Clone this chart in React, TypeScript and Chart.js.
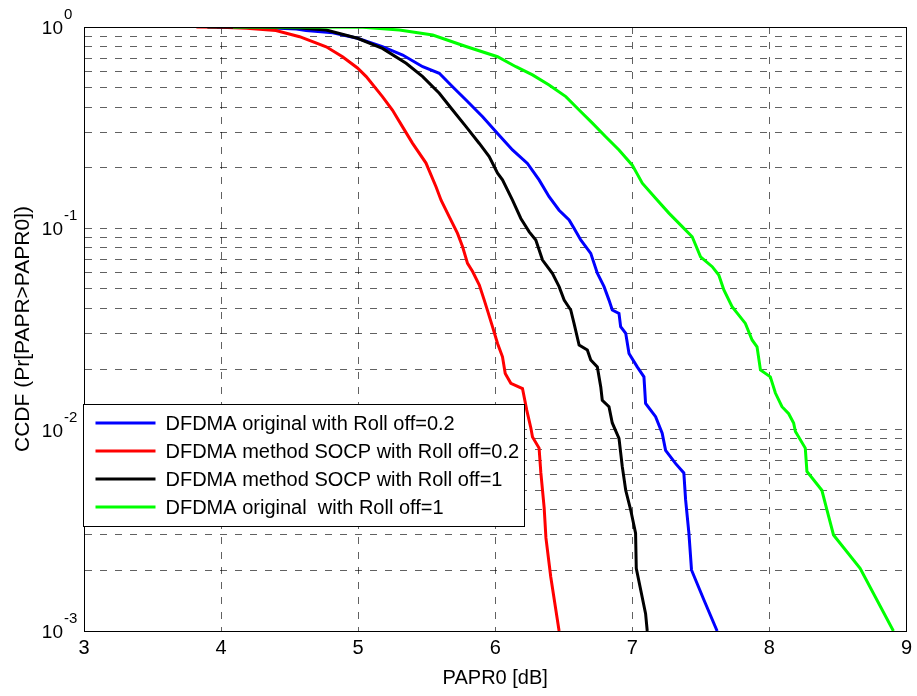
import React, { useEffect, useRef } from 'react';
import { Chart, registerables } from 'chart.js';

Chart.register(...registerables);

const FONT = '"Liberation Sans", Arial, Helvetica, sans-serif';

const seriesLabels = [
  'DFDMA original with Roll off=0.2',
  'DFDMA method SOCP with Roll off=0.2',
  'DFDMA method SOCP with Roll off=1',
  'DFDMA original  with Roll off=1',
];
const seriesColors = ['#0000ff', '#ff0000', '#000000', '#00ff00'];

const blueX = [3.97, 4.3, 4.55, 4.62, 4.815, 4.995, 5.177, 5.325, 5.471, 5.592, 5.689, 5.787, 5.908, 6.017, 6.126, 6.235, 6.32, 6.393, 6.466, 6.539, 6.575, 6.624, 6.697, 6.745, 6.794, 6.83, 6.854, 6.903, 6.915, 6.952, 6.976, 7.036, 7.085, 7.097, 7.17, 7.218, 7.243, 7.315, 7.376, 7.389, 7.413, 7.432, 7.522, 7.619];
const blueY = [1, 0.995, 0.978, 0.962, 0.937, 0.879, 0.798, 0.726, 0.635, 0.589, 0.505, 0.434, 0.358, 0.296, 0.245, 0.21, 0.174, 0.1436, 0.123, 0.11, 0.1, 0.0875, 0.0751, 0.0598, 0.0513, 0.044, 0.0393, 0.0378, 0.0325, 0.0301, 0.0239, 0.0205, 0.0183, 0.0135, 0.0116, 0.0096, 0.0079, 0.0068, 0.0061, 0.00448, 0.00306, 0.00201, 0.00143, 0.001];

const redX = [3.82, 4.0, 4.185, 4.4, 4.573, 4.767, 4.886, 4.995, 5.059, 5.177, 5.25, 5.323, 5.396, 5.495, 5.568, 5.605, 5.665, 5.725, 5.762, 5.798, 5.835, 5.884, 5.92, 5.944, 5.98, 6.017, 6.053, 6.073, 6.114, 6.199, 6.23, 6.26, 6.272, 6.32, 6.333, 6.357, 6.37, 6.405, 6.466];
const redY = [1, 0.998, 0.985, 0.96, 0.895, 0.798, 0.712, 0.626, 0.567, 0.451, 0.387, 0.32, 0.265, 0.211, 0.161, 0.138, 0.114, 0.0944, 0.081, 0.067, 0.061, 0.0523, 0.044, 0.039, 0.0325, 0.0268, 0.023, 0.019, 0.017, 0.016, 0.0125, 0.0102, 0.0092, 0.0081, 0.0061, 0.0041, 0.0029, 0.00186, 0.001];

const blackX = [3.9, 4.3, 4.55, 4.767, 4.995, 5.177, 5.35, 5.471, 5.592, 5.689, 5.787, 5.884, 5.956, 6.017, 6.053, 6.126, 6.187, 6.248, 6.296, 6.345, 6.417, 6.466, 6.503, 6.551, 6.575, 6.612, 6.672, 6.697, 6.745, 6.77, 6.781, 6.83, 6.854, 6.903, 6.927, 6.952, 6.988, 7.024, 7.029, 7.097, 7.109];
const blackY = [1, 0.998, 0.99, 0.966, 0.879, 0.783, 0.66, 0.567, 0.469, 0.387, 0.32, 0.264, 0.227, 0.188, 0.174, 0.138, 0.112, 0.096, 0.0875, 0.0696, 0.0598, 0.0513, 0.044, 0.0393, 0.0337, 0.0263, 0.0249, 0.0222, 0.0205, 0.0163, 0.014, 0.013, 0.0108, 0.00906, 0.00655, 0.005, 0.004, 0.00306, 0.00205, 0.00122, 0.001];

const greenX = [4.087, 4.6, 5.034, 5.301, 5.544, 5.787, 6.017, 6.151, 6.272, 6.393, 6.515, 6.612, 6.709, 6.806, 6.903, 7.0, 7.073, 7.17, 7.267, 7.364, 7.437, 7.498, 7.583, 7.631, 7.668, 7.728, 7.825, 7.874, 7.91, 7.935, 8.007, 8.044, 8.092, 8.141, 8.177, 8.19, 8.262, 8.274, 8.383, 8.42, 8.468, 8.662, 8.905];
const greenY = [1, 1, 0.997, 0.966, 0.913, 0.8, 0.712, 0.635, 0.578, 0.515, 0.451, 0.387, 0.333, 0.285, 0.245, 0.206, 0.1675, 0.141, 0.119, 0.102, 0.0908, 0.0722, 0.0645, 0.0586, 0.0494, 0.0408, 0.0337, 0.0279, 0.0258, 0.0198, 0.0183, 0.0152, 0.013, 0.012, 0.0108, 0.0098, 0.0081, 0.0062, 0.005, 0.004, 0.003, 0.00205, 0.001];

const seriesX = [blueX, redX, blackX, greenX];
const seriesY = [blueY, redY, blackY, greenY];
const drawOrder = [4, 3, 2, 1];

const xMin = 3;
const xMax = 9;
const yTickValues = [
  0.001, 0.002, 0.003, 0.004, 0.005, 0.006, 0.007, 0.008, 0.009,
  0.01, 0.02, 0.03, 0.04, 0.05, 0.06, 0.07, 0.08, 0.09,
  0.1, 0.2, 0.3, 0.4, 0.5, 0.6, 0.7, 0.8, 0.9, 1,
];
const yLabelExponents = [0, -1, -2, -3];

const decorPlugin = {
  id: 'decor',
  afterDraw(chart: any) {
    const { ctx, chartArea: a, scales } = chart;
    const y = scales.y;
    ctx.save();
    // plot box
    ctx.setLineDash([]);
    ctx.strokeStyle = '#000';
    ctx.lineWidth = 1;
    ctx.strokeRect(Math.round(a.left) + 0.5, Math.round(a.top) + 0.5, Math.round(a.right - a.left), Math.round(a.bottom - a.top));

    // y tick labels 10^n
    ctx.fillStyle = '#000';
    for (const e of yLabelExponents) {
      const py = y.getPixelForValue(Math.pow(10, e));
      ctx.font = `19px ${FONT}`;
      ctx.textAlign = 'right';
      ctx.textBaseline = 'alphabetic';
      ctx.fillText('10', a.left - 21, py + 7);
      ctx.font = `15px ${FONT}`;
      ctx.textAlign = 'left';
      ctx.fillText(String(e), a.left - 20, py - 8);
    }

    // legend
    const lx = Math.round(a.left) - 0.5;
    const ly = 404.5;
    const lw = 441;
    const lh = 122;
    ctx.fillStyle = '#fff';
    ctx.fillRect(lx, ly, lw, lh);
    ctx.strokeStyle = '#000';
    ctx.lineWidth = 1;
    ctx.strokeRect(lx, ly, lw, lh);
    chart.data.datasets.forEach((ds: any, i: number) => {
      const ry = 423 + i * 28;
      ctx.strokeStyle = ds.borderColor;
      ctx.lineWidth = 3;
      ctx.beginPath();
      ctx.moveTo(lx + 12, ry);
      ctx.lineTo(lx + 72, ry);
      ctx.stroke();
      ctx.fillStyle = '#000';
      ctx.font = `20px ${FONT}`;
      ctx.textAlign = 'left';
      ctx.textBaseline = 'middle';
      ctx.fillText(ds.label, lx + 82, ry + 1);
    });
    ctx.restore();
  },
};

export default function App() {
  const ref = useRef<HTMLCanvasElement>(null);
  useEffect(() => {
    const datasets = seriesLabels.map((label, i) => ({
      label,
      data: seriesX[i].map((x, j) => ({ x, y: seriesY[i][j] })),
      borderColor: seriesColors[i],
      backgroundColor: seriesColors[i],
      borderWidth: 3,
      pointRadius: 0,
      tension: 0,
      fill: false,
      order: drawOrder[i],
    }));
    const gridColor = 'rgba(0,0,0,0.62)';
    const chart = new Chart(ref.current as HTMLCanvasElement, {
      type: 'line',
      data: { datasets },
      options: {
        animation: false,
        responsive: false,
        layout: { padding: { top: 27, right: 9, bottom: 0, left: 0 } },
        plugins: {
          legend: { display: false },
          tooltip: { enabled: false },
        },
        scales: {
          x: {
            type: 'linear',
            min: xMin,
            max: xMax,
            ticks: { stepSize: 1, color: '#000', padding: 5, font: { size: 20, family: FONT } },
            grid: { color: gridColor, lineWidth: 1, drawTicks: false },
            border: { display: true, color: '#000', dash: [7, 8] },
            title: {
              display: true,
              text: 'PAPR0 [dB]',
              color: '#000',
              font: { size: 20, family: FONT },
              padding: { top: 0, bottom: 6 },
            },
            afterFit: (s: any) => {
              s.height = 65;
            },
          },
          y: {
            type: 'logarithmic',
            min: 0.001,
            max: 1,
            ticks: { display: false },
            afterBuildTicks: (s: any) => {
              s.ticks = yTickValues.map((v) => ({ value: v }));
            },
            grid: { color: gridColor, lineWidth: 1, drawTicks: false },
            border: { display: true, color: '#000', dash: [7, 8] },
            title: {
              display: true,
              text: 'CCDF (Pr[PAPR>PAPR0])',
              color: '#000',
              font: { size: 21, family: FONT },
              padding: { top: 11, bottom: 0 },
            },
            afterFit: (s: any) => {
              s.width = 84;
            },
          },
        },
      } as any,
      plugins: [decorPlugin],
    });
    return () => chart.destroy();
  }, []);
  return (
    <div style={{ position: 'absolute', left: 0, top: 0, width: 917, height: 696, background: '#fff' }}>
      <canvas ref={ref} width={917} height={696} style={{ display: 'block' }} />
    </div>
  );
}
